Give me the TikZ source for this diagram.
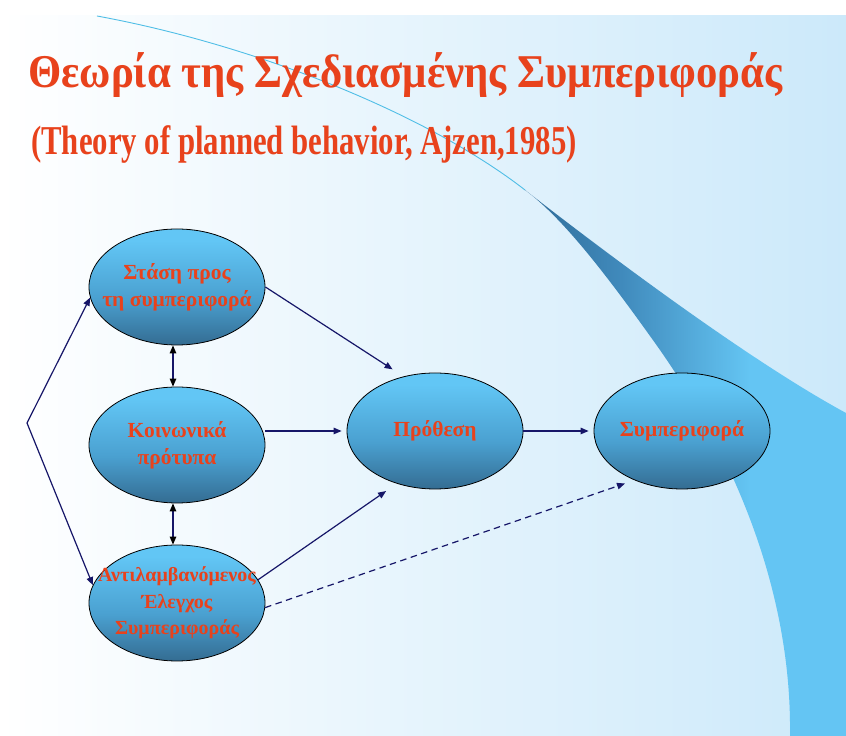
\documentclass[tikz,border=0pt]{standalone}
\usepackage{fontspec}
\setmainfont{Liberation Serif}
\newfontfamily\titlefont[FakeStretch=0.91]{Liberation Serif}
\newfontfamily\subfont[FakeStretch=0.75]{Liberation Serif}
\usetikzlibrary{arrows.meta,shapes.geometric,calc}

\definecolor{txtred}{RGB}{232,66,28}
\definecolor{navy}{RGB}{22,22,104}
\definecolor{bgright}{RGB}{204,233,250}
\definecolor{etop}{RGB}{98,198,245}
\definecolor{emid}{RGB}{74,160,208}
\definecolor{ebot}{RGB}{44,90,124}
\definecolor{wdark}{RGB}{34,78,112}
\definecolor{wdark2}{RGB}{42,98,140}
\definecolor{wmid}{RGB}{64,138,188}
\definecolor{wlight}{RGB}{100,197,243}
\definecolor{thinline}{RGB}{80,190,230}

\pgfdeclareverticalshading{ellsh}{100bp}{color(0bp)=(ebot); color(18bp)=(ebot); color(45bp)=(emid); color(70bp)=(etop); color(100bp)=(etop)}
\pgfdeclarehorizontalshading{wedgesh}{100bp}{color(0bp)=(wdark); color(20bp)=(wdark2); color(40bp)=(wmid); color(60bp)=(wlight); color(100bp)=(wlight)}

\tikzset{
  ell/.style={ellipse, draw=black, line width=0.8pt, shading=ellsh,
    minimum width=176pt, minimum height=116pt, inner sep=0pt},
  lbl/.style={text=txtred, font=\bfseries\fontsize{21.5}{27}\selectfont, align=center},
  lblsmall/.style={lbl, font=\bfseries\fontsize{20}{26.5}\selectfont},
  arr/.style={draw=navy, line width=1.2pt, -{Triangle[length=8pt,width=6.5pt]}},
  dbl/.style={draw=navy, line width=1.2pt,
    {Triangle[length=8pt,width=6.5pt,color=black]}-{Triangle[length=8pt,width=6.5pt,color=black]}},
  dasharr/.style={arr, dash pattern=on 6.5pt off 4.5pt},
  titletxt/.style={text=txtred, font=\titlefont\bfseries\fontsize{47}{52}\selectfont, inner sep=0pt, anchor=base west},
  subtxt/.style={text=txtred, font=\subfont\bfseries\fontsize{41}{46}\selectfont, inner sep=0pt, anchor=base west}
}

\begin{document}
\begin{tikzpicture}[x=1pt,y=1pt]
\useasboundingbox (0,0) rectangle (846,736);
% background
\fill[white] (0,0) rectangle (846,736);
\shade[left color=white, right color=bgright] (0,0) rectangle (846,720);
% wedge / band
\shade[shading=wedgesh] (525,546) .. controls (610,480) and (750,375) .. (846,323)
  -- (846,0) -- (790,0) .. controls (792,150) and (730,290) .. (650,400)
  .. controls (600,470) and (560,520) .. (525,546) -- cycle;
% thin curve
\draw[thinline, line width=0.9pt] (97,720) .. controls (260,690) and (430,620) .. (525,546);

% titles
\node[titletxt] (title) at (28,648) {Θεωρία της Σχεδιασμένης Συμπεριφοράς};
\node[subtxt] (subtitle) at (31,581) {(Theory of planned behavior, Ajzen,1985)};

% nodes
\node[ell, label={[lbl]center:Στάση προς\\τη συμπεριφορά}] (stasi) at (177,449) {};
\node[ell, label={[lbl]center:Κοινωνικά\\πρότυπα}] (koin) at (177,291) {};
\node[ell, label={[lblsmall]center:Αντιλαμβανόμενος\\Έλεγχος\\Συμπεριφοράς}] (antil) at (177,133) {};
\node[ell, label={[lbl]center:Πρόθεση}] (prot) at (435,305) {};
\node[ell, label={[lbl]center:Συμπεριφορά}] (symp) at (682,305) {};
\coordinate (fork) at (27,313);

% connectors
\draw[arr] (fork) -- (stasi.187);
\draw[arr] (fork) -- (antil.168);
\draw[dbl] ([xshift=-4pt]stasi.south) -- ([xshift=-4pt]koin.north);
\draw[dbl] ([xshift=-4pt]koin.south) -- ([xshift=-4pt]antil.north);
\draw[arr, shorten >=13pt] (stasi.east) -- (prot.120);
\draw[arr, shorten >=5pt] (prot.west -| koin.east) -- (prot.west);
\draw[arr, shorten >=13pt] (antil.16) -- (prot.234);
\draw[arr, shorten >=5pt] (prot.east) -- (symp.west);
\draw[dasharr, shorten >=10pt] (antil.357) -- (symp.226);
\end{tikzpicture}
\end{document}
